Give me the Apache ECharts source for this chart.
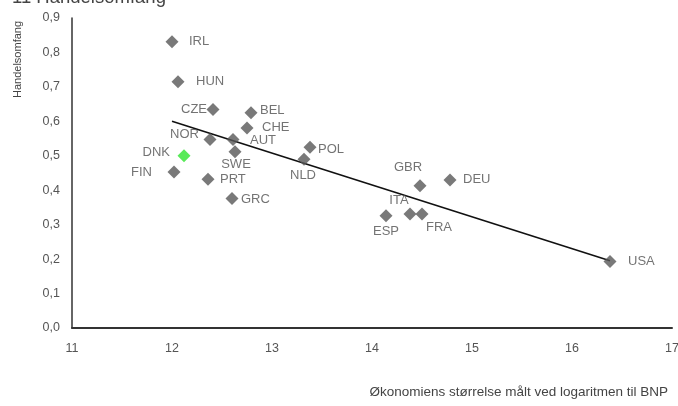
<!DOCTYPE html>
<html>
<head>
<meta charset="utf-8">
<script src="https://cdn.jsdelivr.net/npm/echarts@6/dist/echarts.min.js"></script>
<style>html,body{margin:0;padding:0;background:#fff;}#c{width:678px;height:406px;}</style>
</head>
<body>
<div id="c"></div>
<script>
const countries = ['IRL','HUN','CZE','BEL','CHE','AUT','NOR','SWE','DNK','FIN','PRT','GRC','POL','NLD','GBR','DEU','ESP','ITA','FRA','USA'];
const gdpLog = [12.00,12.06,12.41,12.79,12.75,12.61,12.38,12.63,12.12,12.02,12.36,12.60,13.38,13.32,14.48,14.78,14.14,14.38,14.50,16.38];
const tradeVolume = [0.831,0.715,0.634,0.625,0.581,0.547,0.547,0.512,0.500,0.453,0.432,0.376,0.525,0.490,0.413,0.430,0.326,0.331,0.331,0.193];
const trendX = [12.0, 16.38];
const trendY = [0.600, 0.195];
const highlighted = 'DNK';

// label placement (style only): [align, dx, dy]
const labelPlace = {
  IRL:['left',17,0], HUN:['left',18,0], CZE:['right',-6,0], BEL:['left',9,-2],
  CHE:['left',15,0], AUT:['left',17,1], NOR:['right',-11,-5], SWE:['center',1,13],
  DNK:['right',-14,-3], FIN:['right',-22,0], PRT:['left',12,0], GRC:['left',9,1],
  POL:['left',8,2], NLD:['center',-1,16], GBR:['center',-12,-18], DEU:['left',13,0],
  ESP:['center',0,16], ITA:['center',-11,-14], FRA:['left',4,13], USA:['left',18,0]
};

const font = '"Liberation Sans", Arial, sans-serif';
const pts = countries.map((c,i)=>{
  const p = labelPlace[c];
  return {
    name: c,
    value: [gdpLog[i], tradeVolume[i]],
    itemStyle: {color: c===highlighted ? '#2fe52f' : '#575757'},
    label: {show:true, position:'inside', formatter: c, align:p[0], verticalAlign:'middle', offset:[p[1],p[2]],
      color:'#505050', fontSize:13, fontFamily:font}
  };
});

const chart = echarts.init(document.getElementById('c'));
chart.setOption({
  animation:false,
  backgroundColor:'#fff',
  grid:{left:72, right:6, top:18, bottom:78, containLabel:false, outerBoundsMode:'none'},
  graphic:[
    {type:'text', left:12, top:-12, style:{text:'11 Handelsomfang', fontSize:18.5, fontFamily:font, fill:'#444'}},
    {type:'text', right:10, top:385, style:{text:'Økonomiens størrelse målt ved logaritmen til BNP', fontSize:13.5, fontFamily:font, fill:'#444'}},
    {type:'text', x:12, y:98, rotation:Math.PI/2, style:{text:'Handelsomfang', fontSize:11, fontFamily:font, fill:'#444', align:'left', verticalAlign:'top'}}
  ],
  xAxis:{type:'value', min:11, max:17, interval:1,
    axisLine:{show:true, lineStyle:{color:'#333', width:2}},
    axisTick:{show:false}, splitLine:{show:false},
    axisLabel:{color:'#555', fontSize:12.5, fontFamily:font, margin:14, showMaxLabel:true}
  },
  yAxis:{type:'value', min:0, max:0.9, interval:0.1,
    axisLine:{show:true, lineStyle:{color:'#333', width:1.5}},
    axisTick:{show:false}, splitLine:{show:false},
    axisLabel:{color:'#555', fontSize:12.5, fontFamily:font, margin:12,
      formatter:v=>v.toFixed(1).replace('.',',')}
  },
  series:[
    {type:'line', data:trendX.map((x,i)=>[x,trendY[i]]), symbol:'none', silent:true,
      lineStyle:{color:'#111', width:1.6}, z:1},
    {type:'scatter', data:pts, symbol:'diamond', symbolSize:13, z:2}
  ]
});
</script>
</body>
</html>
